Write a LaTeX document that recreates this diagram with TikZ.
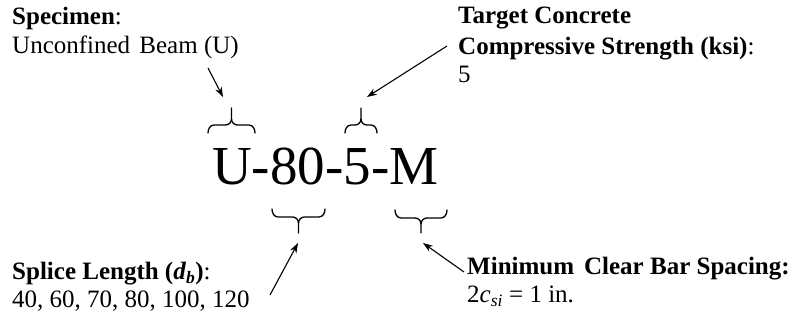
\documentclass[tikz,border=0pt]{standalone}
\usepackage{fontspec}
\setmainfont{Liberation Serif}
\usetikzlibrary{arrows.meta}
\begin{document}
\begin{tikzpicture}[x=1pt,y=1pt,
  lbl/.style={anchor=base west,inner sep=0pt,font=\fontsize{25}{29}\selectfont},
  big/.style={anchor=base west,inner sep=0pt,font=\fontsize{55}{60}\selectfont},
  brc/.style={line width=1.3pt,line cap=round,line join=round},
  arr/.style={line width=1.1pt,-{Stealth[length=10pt,width=7pt]}}]
\useasboundingbox (0,0) rectangle (804,-331);
% labels
\node[lbl] (spec1) at (12,-25) {\textbf{Specimen}:};
\node[lbl] (spec2) at (12,-54) {Unconfined\hspace{0.12em} Beam (U)};
\node[lbl] (targ1) at (458,-24) {\textbf{Target Concrete}};
\node[lbl] (targ2) at (458,-55) {\textbf{Compressive Strength (ksi)}:};
\node[lbl] (targ3) at (458,-83) {5};
\node[lbl] (spl1) at (12,-280) {\textbf{Splice Length (\textit{d}\textsubscript{\textit{b}})}:};
\node[lbl] (spl2) at (12,-308) {40, 60, 70, 80, 100, 120};
\node[lbl] (min1) at (467,-275) {\textbf{Minimum\hspace{0.15em} Clear Bar Spacing:}};
\node[lbl] (min2) at (467,-303) {2\textit{c}\textsubscript{\textit{si}} = 1 in.};
% designation
\node[big] (code) at (212,-185) {U-80-5-M};
% braces (top)
\draw[brc] (208,-133) to[out=90,in=180] (214,-125) -- (225.5,-125) to[out=0,in=-90] (231.5,-119) -- (231.5,-108) coordinate (bU);
\draw[brc] (255,-133) to[out=90,in=0] (249,-125) -- (237.5,-125) to[out=180,in=-90] (231.5,-119);
\draw[brc] (345,-133) to[out=90,in=180] (351,-125) -- (355,-125) to[out=0,in=-90] (361,-119) -- (361,-108) coordinate (b5);
\draw[brc] (377,-133) to[out=90,in=0] (371,-125) -- (367,-125) to[out=180,in=-90] (361,-119);
% braces (bottom)
\draw[brc] (272,-209) to[out=-90,in=180] (278,-217) -- (292.5,-217) to[out=0,in=90] (298.5,-223) -- (298.5,-233) coordinate (b80);
\draw[brc] (325,-209) to[out=-90,in=0] (319,-217) -- (304.5,-217) to[out=180,in=90] (298.5,-223);
\draw[brc] (395,-210) to[out=-90,in=180] (401,-218) -- (415,-218) to[out=0,in=90] (421,-224) -- (421,-233) coordinate (bM);
\draw[brc] (447,-210) to[out=-90,in=0] (441,-218) -- (427,-218) to[out=180,in=90] (421,-224);
% arrows
\coordinate (a1s) at (208,-68);
\coordinate (a1e) at (223,-97);
\coordinate (a2s) at (447,-46);
\coordinate (a2e) at (367,-97);
\coordinate (a3s) at (270,-295);
\coordinate (a3e) at (298,-243);
\coordinate (a4s) at (464,-272);
\coordinate (a4e) at (423,-243);
\draw[arr] (a1s) -- (a1e);
\draw[arr] (a2s) -- (a2e);
\draw[arr] (a3s) -- (a3e);
\draw[arr] (a4s) -- (a4e);
\end{tikzpicture}
\end{document}
